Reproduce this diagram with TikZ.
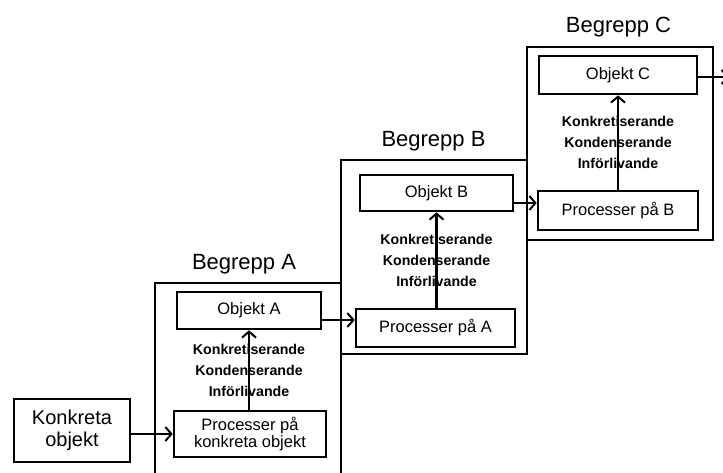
\documentclass[tikz,border=0pt]{standalone}
\usepackage{fontspec}
\setmainfont{Liberation Sans}
\usetikzlibrary{arrows.meta}
\begin{document}
\begin{tikzpicture}[x=1pt,y=-1pt,
  frame/.style={draw, line width=2.8pt},
  box/.style={draw, line width=2.6pt, inner sep=0pt, align=center,
    font=\fontsize{16.5}{17}\selectfont},
  arr/.style={line width=2.3pt, -{Straight Barb[length=6pt,width=14pt,line width=2pt]}},
  steps/.style={align=center, inner sep=0pt, font=\bfseries\fontsize{14.2}{21}\selectfont},
  title/.style={inner sep=0pt, anchor=base, font=\fontsize{22}{24}\selectfont}]
\useasboundingbox (0,0) rectangle (723,472);

% concept frames
\draw[frame] (155,474) -- (155,283) -- (341,283) -- (341,474);
\draw[frame] (341,160) rectangle (527,354);
\draw[frame] (527,47) rectangle (713,240);

\node[title] (tA) at (244,269) {Begrepp A};
\node[title] (tB) at (433.5,146) {Begrepp B};
\node[title] (tC) at (618.5,32) {Begrepp C};

% boxes
\node[box, minimum width=116pt, minimum height=63pt,
  font=\fontsize{20}{22}\selectfont] (konk) at (72,430.5) {Konkreta\\objekt};
\node[box, minimum width=144pt, minimum height=37pt] (objA) at (249,310.5) {Objekt A};
\node[box, minimum width=152pt, minimum height=46pt] (proc0) at (250,434) {Processer på\\konkreta objekt};
\node[box, minimum width=153pt, minimum height=36pt] (objB) at (436.5,193) {Objekt B};
\node[box, minimum width=159pt, minimum height=38pt] (procA) at (435.5,328) {Processer på A};
\node[box, minimum width=158pt, minimum height=38pt] (objC) at (618,75) {Objekt C};
\node[box, minimum width=160pt, minimum height=39pt] (procB) at (618,210.5) {Processer på B};

% horizontal connectors
\coordinate (a1) at ([yshift=-9.5pt]objA.east);
\coordinate (b1) at ([yshift=-10pt]objB.east);
\coordinate (out) at (729,77);
\draw[arr] (konk.east |- proc0.west) -- (proc0.west);
\draw[arr] (a1) -- (a1 -| procA.west);
\draw[arr] (b1) -- (b1 -| procB.west);
\draw[arr] (objC.east |- out) -- (out);

% vertical connectors with their labels
\draw[arr] (objA.south |- proc0.north) -- (objA.south)
  node[steps, midway] (sA) {Konkretiserande\\Kondenserande\\Införlivande};
\draw[arr] (objB.south |- procA.north) -- (objB.south)
  node[steps, midway] (sB) {Konkretiserande\\Kondenserande\\Införlivande};
\draw[arr] (objC.south |- procB.north) -- (objC.south)
  node[steps, midway] (sC) {Konkretiserande\\Kondenserande\\Införlivande};
\end{tikzpicture}
\end{document}
